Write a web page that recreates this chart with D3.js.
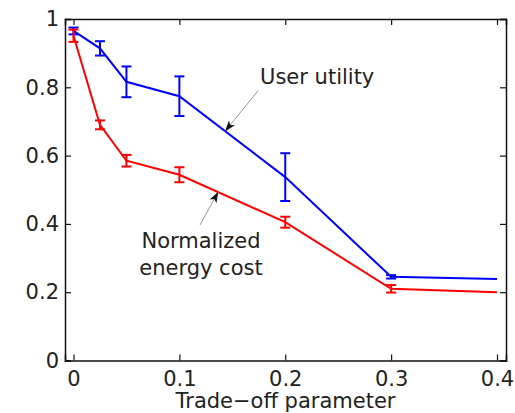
<!DOCTYPE html>
<html>
<head>
<meta charset="utf-8">
<script src="https://cdn.jsdelivr.net/npm/d3@7"></script>
<style>
  body { margin: 0; background: #fff; }
  svg { display: block; }
  text { font-family: "DejaVu Sans", sans-serif; fill: #222; }
</style>
</head>
<body>
<div id="chart"></div>
<script>
'use strict';

// values
var tradeoff = [0, 0.025, 0.05, 0.1, 0.2, 0.3, 0.4];
var userUtility = [0.965, 0.914, 0.816, 0.774, 0.537, 0.245, 0.239];
var userUtilityErr = [0.01, 0.021, 0.045, 0.058, 0.07, 0.005, 0];
var energyCost = [0.951, 0.69, 0.585, 0.544, 0.405, 0.21, 0.2];
var energyCostErr = [0.018, 0.013, 0.017, 0.022, 0.016, 0.011, 0];
var xTicks = [0, 0.1, 0.2, 0.3, 0.4];
var yTicks = [0, 0.2, 0.4, 0.6, 0.8, 1];

var FONT = 21;
var margins = { left: 65, top: 19, right: 9, bottom: 52.5 };
var width = 515 - margins.left - margins.right;
var height = 413 - margins.top - margins.bottom;

var svg = d3.select('#chart').append('svg')
  .attr('width', 515)
  .attr('height', 413);

var g = svg.append('g')
  .attr('transform', 'translate(' + margins.left + ',' + margins.top + ')');

var x = d3.scaleLinear().domain([-0.00803, 0.4085]).range([0, width]);
var y = d3.scaleLinear().domain([0, 1]).range([height, 0]);

svg.append('defs').append('marker')
  .attr('id', 'head')
  .attr('viewBox', '0 0 10 10')
  .attr('refX', 10).attr('refY', 5)
  .attr('markerWidth', 11).attr('markerHeight', 11)
  .attr('markerUnits', 'userSpaceOnUse')
  .attr('orient', 'auto')
  .append('path')
  .attr('d', 'M0,1.5 L10,5 L0,8.5 L2.5,5 Z')
  .attr('fill', '#111');

function drawSeries(vals, errs, color) {
  var pts = tradeoff.map(function(t, i) { return { x: t, y: vals[i], e: errs[i] }; });
  g.append('path')
    .datum(pts)
    .attr('fill', 'none')
    .attr('stroke', color)
    .attr('stroke-width', 2)
    .attr('d', d3.line().x(function(d) { return x(d.x); }).y(function(d) { return y(d.y); }));

  var bars = g.append('g').selectAll('g')
    .data(pts.filter(function(d) { return d.e > 0; }))
    .enter().append('g')
    .attr('stroke', color)
    .attr('stroke-width', 2);
  bars.append('line')
    .attr('x1', function(d) { return x(d.x); }).attr('x2', function(d) { return x(d.x); })
    .attr('y1', function(d) { return y(d.y - d.e); }).attr('y2', function(d) { return y(d.y + d.e); });
  [-1, 1].forEach(function(s) {
    bars.append('line')
      .attr('x1', function(d) { return x(d.x) - 5; }).attr('x2', function(d) { return x(d.x) + 5; })
      .attr('y1', function(d) { return y(d.y + s * d.e); }).attr('y2', function(d) { return y(d.y + s * d.e); });
  });
}

drawSeries(userUtility, userUtilityErr, '#0000ff');
drawSeries(energyCost, energyCostErr, '#ff0000');

// axes, box with inward ticks
var xAxis = g.append('g')
  .attr('transform', 'translate(0,' + height + ')')
  .call(d3.axisBottom(x).tickValues(xTicks).tickSize(-6).tickPadding(11).tickFormat(d3.format('')));
var xTop = g.append('g')
  .call(d3.axisTop(x).tickValues(xTicks).tickSize(-6).tickFormat(''));
var yAxis = g.append('g')
  .call(d3.axisLeft(y).tickValues(yTicks).tickSize(-6).tickPadding(6).tickFormat(d3.format('')));
var yRight = g.append('g')
  .attr('transform', 'translate(' + width + ',0)')
  .call(d3.axisRight(y).tickValues(yTicks).tickSize(-6).tickFormat(''));

[xAxis, xTop, yAxis, yRight].forEach(function(a) {
  a.select('.domain').attr('stroke', '#111').attr('stroke-width', 1.5);
  a.selectAll('.tick line').attr('stroke', '#111').attr('stroke-width', 1.2);
  a.selectAll('text').attr('font-size', FONT).attr('font-family', '"DejaVu Sans", sans-serif').attr('fill', '#222');
});

g.append('text')
  .attr('x', width / 2)
  .attr('y', height + 47.5)
  .attr('text-anchor', 'middle')
  .attr('font-size', FONT)
  .text('Trade\u2212off parameter');

// annotations
var notes = [
  { lines: ['User utility'], tx: 0.1762, ty: 0.811, anchor: 'start', from: [0.1743, 0.790], to: [0.1431, 0.6706] },
  { lines: ['Normalized', 'energy cost'], tx: 0.1204, ty: 0.328, anchor: 'middle', from: [0.1195, 0.3968], to: [0.1368, 0.4943] }
];

notes.forEach(function(n) {
  g.append('line')
    .attr('x1', x(n.from[0])).attr('y1', y(n.from[1]))
    .attr('x2', x(n.to[0])).attr('y2', y(n.to[1]))
    .attr('stroke', '#999')
    .attr('stroke-width', 1)
    .attr('marker-end', 'url(#head)');
  var t = g.append('text')
    .attr('x', x(n.tx))
    .attr('y', y(n.ty))
    .attr('text-anchor', n.anchor)
    .attr('font-size', FONT);
  n.lines.forEach(function(l, i) {
    t.append('tspan').attr('x', x(n.tx)).attr('dy', i === 0 ? 0 : 26.5).text(l);
  });
});
</script>
</body>
</html>
